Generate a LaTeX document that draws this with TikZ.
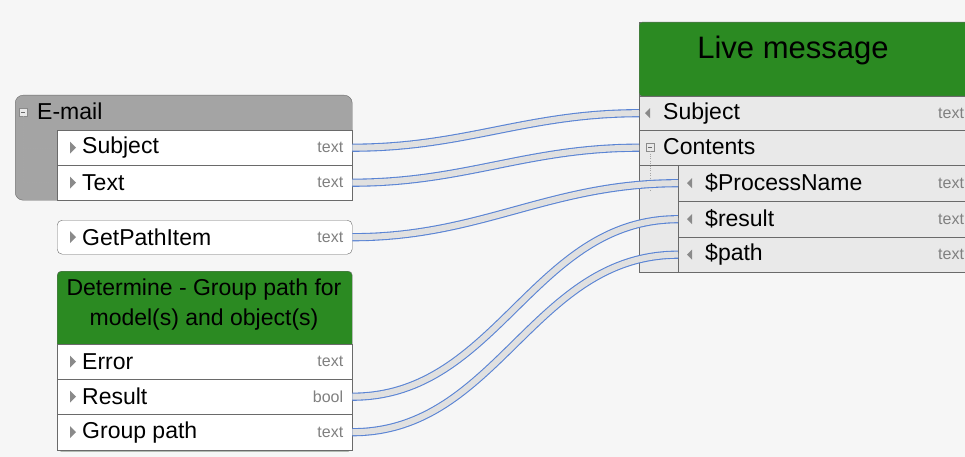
\documentclass[tikz,border=0pt]{standalone}
\usepackage{fontspec}
\setmainfont{Liberation Sans}
\usetikzlibrary{positioning}
\definecolor{bggray}{HTML}{F6F6F6}
\definecolor{hdgray}{HTML}{A4A4A4}
\definecolor{hdgreen}{HTML}{2B8A22}
\definecolor{rowgray}{HTML}{E9E9E9}
\definecolor{framegray}{HTML}{6A6A6A}
\definecolor{tipgray}{HTML}{8A8A8A}
\definecolor{linkblue}{HTML}{5A84D4}
\definecolor{linkfill}{HTML}{E0E0E0}
\tikzset{group/.style = {shape = rectangle, draw = framegray, anchor = north west, inner sep = 0pt}}
\tikzset{row/.style = {shape = rectangle, draw = framegray, fill = white, anchor = north west, minimum width = 295pt, minimum height = 35pt, inner sep = 0pt}}
\tikzset{portrow/.style = {row, fill = rowgray, minimum width = 302pt, minimum height = 36pt}}
\tikzset{rowtext/.style = {anchor = west, inner sep = 0pt, font = \fontsize{23}{27}\selectfont}}
\tikzset{typetext/.style = {inner sep = 0pt, text = gray, font = \fontsize{16}{18}\selectfont}}
\tikzset{minusbox/.style = {shape = rectangle, draw = tipgray, fill = rowgray, minimum size = 8pt, inner sep = 0pt}}
\tikzset{link/.style = {draw = linkblue, double = linkfill, double distance = 6pt, line width = 1.1pt}}

\begin{document}
\begin{tikzpicture}[x = 1pt, y = -1pt]
	\useasboundingbox (0, 0) rectangle (965, 457);
	\fill[bggray] (0, 0) rectangle (965, 457);

	\node[group, fill = hdgray, rounded corners = 8pt, minimum width = 337pt, minimum height = 105pt] (mail) at (15, 95) {};
	\node[minusbox] (mailminus) at (23, 112) {};
	\draw[framegray] ([xshift = -2pt]mailminus.center) -- ([xshift = 2pt]mailminus.center);
	\node[rowtext] (mailtitle) at (37, 111) {E-mail};
	\draw[framegray!60, dotted] (mailminus.south) -- (23, 182) -- (57, 182);
	\draw[framegray!60, dotted] (23, 148) -- (57, 148);
	\node[row] (msubj) at (57, 130) {};
	\node[row] (mtext) at (57, 165) {};

	\node[row, rounded corners = 5pt, minimum height = 34pt] (gpi) at (57, 220) {};

	\node[group, fill = hdgreen, rounded corners = 4pt, minimum width = 295pt, minimum height = 180pt] (det) at (57, 271) {};
	\node[align = center, inner sep = 0pt, font = \fontsize{23}{30}\selectfont] (dettitle) at (204, 305) {Determine - Group path for\\model(s) and object(s)};
	\node[row] (derr) at (57, 344) {};
	\node[row] (dres) at (57, 379) {};
	\node[row, minimum height = 36pt] (dpath) at (57, 414) {};

	\foreach \r/\t/\k in {msubj/Subject/text, mtext/Text/text, gpi/GetPathItem/text, derr/Error/text, dres/Result/bool, dpath/Group path/text} {
		\fill[tipgray] ([xshift = 13pt, yshift = 6pt]\r.west) -- ++(6, 6) -- ++(-6, 6) -- cycle;
		\node[rowtext] (\r-name) at ([xshift = 25pt]\r.west) {\t};
		\node[typetext, anchor = east] (\r-type) at ([xshift = -9pt]\r.east) {\k};
	}

	\node[group, fill = rowgray, minimum width = 341pt, minimum height = 250pt] (live) at (639, 22) {};
	\node[group, fill = hdgreen, rounded corners = 3pt, minimum width = 341pt, minimum height = 74pt] (livehead) at (639, 22) {};
	\node[inner sep = 0pt, font = \fontsize{31}{36}\selectfont] (livetitle) at (793, 50) {Live message};
	\node[portrow, minimum width = 341pt, minimum height = 34pt] (lsubj) at (639, 96) {};
	\node[portrow, minimum width = 341pt, minimum height = 35pt] (lcont) at (639, 130) {};
	\node[portrow] (lproc) at (678, 165) {};
	\node[portrow] (lres) at (678, 201) {};
	\node[portrow, minimum height = 35pt] (lpath) at (678, 237) {};

	\node[minusbox] (contminus) at (650, 147) {};
	\draw[framegray] ([xshift = -2pt]contminus.center) -- ([xshift = 2pt]contminus.center);
	\draw[framegray!60, dotted] (contminus.south) -- (650, 190);
	\node[rowtext] (lcont-name) at (663, 147) {Contents};

	\foreach \r/\t/\s in {lsubj/Subject/24, lproc/\$ProcessName/27, lres/\$result/27, lpath/\$path/27} {
		\fill[tipgray] ([xshift = 2pt]\r.west) ++(\s - 20, 0) -- ++(5, -5) -- ++(0, 10) -- cycle;
		\node[rowtext] (\r-name) at ([xshift = \s pt]\r.west) {\t};
		\node[typetext, anchor = west] (\r-type) at (938, 0 |- \r.west) {text};
	}

	\draw[link] (msubj.east) to[out = 0, in = 180] (lsubj.west);
	\draw[link] (mtext.east) to[out = 0, in = 180] (lcont.west);
	\draw[link] (gpi.east) to[out = 0, in = 180] (lproc.west);
	\draw[link] (dres.east) to[out = 0, in = 180] (lres.west);
	\draw[link] (dpath.east) to[out = 0, in = 180] (lpath.west);
\end{tikzpicture}
\end{document}
